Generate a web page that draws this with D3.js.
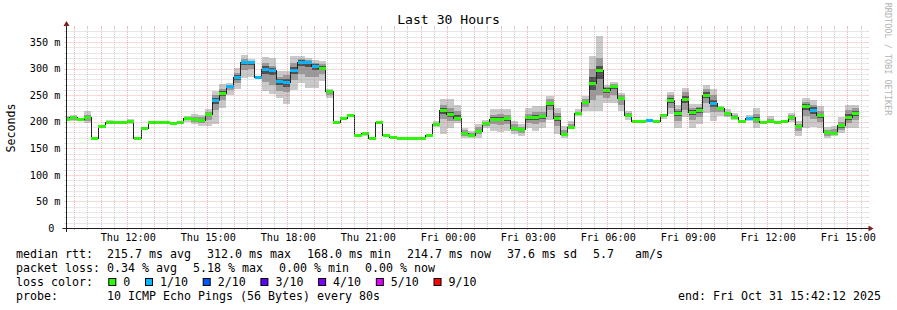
<!DOCTYPE html>
<html><head><meta charset="utf-8">
<script src="https://cdn.jsdelivr.net/npm/d3@7/dist/d3.min.js"></script>
<style>
html,body{margin:0;padding:0;background:#fff;overflow:hidden}
svg text{font-family:"DejaVu Sans Mono",monospace;white-space:pre}
</style></head>
<body>
<svg id="chart" width="897" height="310"></svg>
<script>
// ---------------- data ----------------
const windowStart = "2025-10-30T09:42:12";
const windowEnd   = "2025-10-31T15:42:12";
const stepStart   = "2025-10-30T09:34:00";
const stepMinutes = 16;

// median RTT per step (ms)
const median = [205,207,204,207,168,191,199,199,199,201,
 169,187,198,199,199,197,199,206,205,203,
 214,239,254,266,283,312,312,283,298,296,
 276,274,297,312,312,304,301,256,199,206,
 211,174,177,168,199,174,170,169,169,169,
 169,174,195,221,214,206,178,175,182,196,
 205,205,206,187,185,207,207,209,234,206,
 176,189,215,236,271,297,259,266,244,212,
 201,201,202,201,211,240,216,242,217,221,
 249,234,225,215,207,201,206,205,199,201,
 199,201,207,191,229,221,211,179,177,192,
 207,215];
// lost pings per step (out of 10)
const loss = [0,0,0,0,0,0,0,0,0,0,
 0,0,0,0,0,0,0,0,0,0,
 0,1,0,1,1,1,1,1,1,1,
 1,1,1,1,1,1,0,0,0,0,
 0,0,0,0,0,0,0,0,0,0,
 0,0,0,0,0,0,0,0,0,0,
 0,0,0,0,0,0,0,0,0,0,
 0,0,0,0,0,0,0,0,0,0,
 0,0,1,0,0,0,0,0,0,0,
 0,1,0,0,0,0,1,0,0,0,
 0,0,0,0,0,1,0,0,0,0,
 0,0];
// smoke: outer ping range (min / max)
const smokeLo = [201,202,201,197,166,189,195,197,197,195,
 167,185,196,197,197,195,197,200,195,191,
 191,195,226,251,261,282,285,281,258,252,
 245,233,260,272,264,264,276,245,197,204,
 209,172,173,167,197,172,168,167,167,167,
 167,172,190,176,189,198,170,170,170,189,
 183,181,183,176,173,189,183,189,204,176,
 170,186,211,220,220,220,236,236,220,204,
 199,199,200,199,205,214,189,208,189,195,
 217,201,211,208,203,199,201,189,197,198,
 198,199,200,173,189,190,189,170,173,179,
 189,189];
const smokeHi = [210,212,207,220,172,193,203,201,202,206,
 171,189,200,201,201,199,201,211,214,212,
 224,257,271,273,301,325,318,285,321,320,
 296,296,323,323,320,317,314,261,201,208,
 213,176,180,170,201,176,172,171,171,171,
 171,176,201,242,242,231,189,183,195,204,
 223,223,223,201,195,226,229,229,248,226,
 192,201,223,248,323,362,270,275,254,220,
 203,203,205,203,214,256,231,264,233,233,
 270,261,229,223,217,203,213,225,201,211,
 202,203,217,201,245,240,229,190,192,208,
 231,231];
// smoke: inner ping range (3rd / 8th ping)
const innerLo = [203,204,202,202,167,190,197,198,198,198,
 168,186,197,198,198,196,198,203,200,197,
 204,222,240,260,272,298,300,282,275,270,
 258,255,278,290,285,285,290,250,198,205,
 210,173,175,167,198,173,169,168,168,168,
 168,173,192,205,202,202,174,172,176,192,
 195,194,195,182,179,198,196,200,222,192,
 173,187,212,228,240,250,245,250,232,208,
 200,200,201,200,208,226,202,222,203,208,
 235,218,218,211,205,200,203,198,198,199,
 198,200,204,182,210,205,200,174,175,185,
 198,204];
const innerHi = [208,210,206,212,170,192,201,200,201,204,
 170,188,199,200,200,198,200,209,209,208,
 219,250,262,270,292,318,315,284,310,305,
 285,287,310,318,316,310,308,259,200,207,
 212,175,178,169,200,175,171,170,170,170,
 170,175,198,232,226,220,184,179,190,200,
 213,214,213,195,190,215,218,218,242,216,
 184,196,219,243,300,320,266,271,250,217,
 202,202,204,202,213,250,224,256,226,228,
 262,250,228,219,212,202,209,214,200,205,
 201,202,212,196,238,232,220,185,186,200,
 222,226];
// smoke: core ping range (4th / 7th ping)
const coreLo = [204,205,203,205,168,191,198,199,199,200,
 169,187,198,199,199,197,199,205,203,201,
 210,233,249,264,279,306,307,283,290,287,
 270,266,290,305,303,298,297,254,199,206,
 211,174,177,168,199,174,170,169,169,169,
 169,174,194,215,209,204,176,174,180,195,
 201,201,202,185,183,204,203,206,230,201,
 175,188,214,233,260,280,254,261,240,211,
 201,201,202,201,210,235,211,235,212,217,
 244,228,223,213,206,201,205,202,199,200,
 199,201,205,188,222,215,207,177,176,189,
 203,210];
const coreHi = [206,208,205,209,169,191,200,199,200,202,
 169,187,198,199,199,197,199,207,207,205,
 216,244,258,268,287,315,314,283,304,301,
 281,280,303,316,315,308,305,258,199,206,
 211,174,177,168,199,174,170,169,169,169,
 169,174,196,226,219,212,181,177,185,197,
 208,209,209,190,187,211,212,213,238,210,
 179,191,216,239,285,305,263,269,247,214,
 201,201,202,201,212,245,220,249,222,225,
 255,241,227,217,209,201,207,209,199,203,
 199,201,210,194,234,227,215,182,181,196,
 214,220];

const xTickTimes  = ["2025-10-30T12:00:00","2025-10-30T15:00:00","2025-10-30T18:00:00","2025-10-30T21:00:00",
  "2025-10-31T00:00:00","2025-10-31T03:00:00","2025-10-31T06:00:00","2025-10-31T09:00:00",
  "2025-10-31T12:00:00","2025-10-31T15:00:00"];
const xTickLabels = ["Thu 12:00","Thu 15:00","Thu 18:00","Thu 21:00","Fri 00:00","Fri 03:00",
  "Fri 06:00","Fri 09:00","Fri 12:00","Fri 15:00"];
const yTickValues = [0,50,100,150,200,250,300,350];
const yTickLabels = ["0 ","50 m","100 m","150 m","200 m","250 m","300 m","350 m"];

const lossLevels = [0,1,2,3,4,5,9];
const lossLabels = ["0","1/10","2/10","3/10","4/10","5/10","9/10"];
const lossColors = ["#26ff00","#00b8ff","#0059ff","#5e00ff","#7e00ff","#dd00ff","#ff0000"];

const titleText = "Last 30 Hours";
const yAxisTitle = "Seconds";
const watermark = "RRDTOOL / TOBI OETIKER";
const legendRow1 = ["median rtt:  215.7 ms avg","312.0 ms max","168.0 ms min","214.7 ms now","37.6 ms sd","5.7   am/s"];
const legendRow2 = ["packet loss: 0.34 % avg","5.18 % max","0.00 % min","0.00 % now"];
const legendRow3Head = "loss color:";
const legendRow4 = "probe:       10 ICMP Echo Pings (56 Bytes) every 80s";
const endText = "end: Fri Oct 31 15:42:12 2025";

// ---------------- drawing ----------------
const svg = d3.select("#chart");
const parse = d3.timeParse("%Y-%m-%dT%H:%M:%S");
const X0 = 66.5, X1 = 866.5, Y0 = 228, Y1 = 28;
const x = d3.scaleTime().domain([parse(windowStart), parse(windowEnd)]).range([X0, X1]);
const y = d3.scaleLinear().domain([0, 350]).range([Y0, 42]);
const yMax = y.invert(Y1);

const s0 = parse(stepStart);
const steps = median.map((m, i) => ({
  t0: d3.timeMinute.offset(s0, i * stepMinutes),
  t1: d3.timeMinute.offset(s0, (i + 1) * stepMinutes),
  m, loss: loss[i], lo: smokeLo[i], hi: smokeHi[i], ilo: innerLo[i], ihi: innerHi[i],
  clo: coreLo[i], chi: coreHi[i]
}));
const pts = steps.map(s => Object.assign({t: s.t0}, s));
pts.push(Object.assign({}, steps[steps.length - 1], {t: steps[steps.length - 1].t1}));

function lossColor(l) {
  let idx = 0;
  lossLevels.forEach((lv, i) => { if (l >= lv) idx = i; });
  return lossColors[idx];
}

svg.append("rect").attr("width", 897).attr("height", 310).attr("fill", "#fff");
svg.append("defs").append("clipPath").attr("id", "plotclip")
  .append("rect").attr("x", 67).attr("y", Y1).attr("width", 800).attr("height", Y0 - Y1);

const g = svg.append("g").attr("clip-path", "url(#plotclip)");
const band = (lo, hi) => d3.area().curve(d3.curveStepAfter)
  .x(d => x(d.t)).y0(d => y(d[lo])).y1(d => y(d[hi]));
g.append("path").datum(pts).attr("d", band("lo", "hi")).attr("fill", "#cacaca").attr("shape-rendering", "crispEdges");
g.append("path").datum(pts).attr("d", band("ilo", "ihi")).attr("fill", "#9a9a9a").attr("shape-rendering", "crispEdges");
g.append("path").datum(pts).attr("d", band("clo", "chi")).attr("fill", "#505050").attr("shape-rendering", "crispEdges");
g.append("path").datum(pts)
  .attr("d", d3.line().curve(d3.curveStepAfter).x(d => x(d.t)).y(d => y(d.m)))
  .attr("fill", "none").attr("stroke", "#202020").attr("stroke-width", 1).attr("shape-rendering", "crispEdges");
g.selectAll("rect.med").data(steps).join("rect").attr("class", "med")
  .attr("x", d => x(d.t0)).attr("width", d => x(d.t1) - x(d.t0))
  .attr("y", d => y(d.m) - 1.5).attr("height", 3)
  .attr("fill", d => lossColor(d.loss)).attr("shape-rendering", "crispEdges");

// grid (drawn over the graph like rrdtool)
const grid = svg.append("g");
const minorCol = "rgba(143,143,143,0.42)", majorCol = "rgba(222,79,79,0.42)";
const tS = parse(windowStart), tE = parse(windowEnd);
const halfHours = d3.timeMinute.every(30).range(tS, tE).filter(t => t.getMinutes() === 30);
const hours = d3.timeHour.every(1).range(tS, tE);
function vline(t, col) {
  const px = Math.floor(x(t)) + 0.5;
  grid.append("line").attr("x1", px).attr("x2", px).attr("y1", Y1).attr("y2", Y0)
    .attr("stroke", col).attr("stroke-dasharray", "1,1");
  grid.append("line").attr("x1", px).attr("x2", px).attr("y1", Y0).attr("y2", Y0 + 2).attr("stroke", col);
  grid.append("line").attr("x1", px).attr("x2", px).attr("y1", Y1 - 2).attr("y2", Y1).attr("stroke", col);
}
halfHours.forEach(t => vline(t, minorCol));
hours.forEach(t => vline(t, majorCol));
d3.range(10, yMax, 10).forEach(v => {
  const col = v % 50 === 0 ? majorCol : minorCol;
  const py = Math.round(y(v)) + 0.5;
  grid.append("line").attr("x1", X0).attr("x2", X1).attr("y1", py).attr("y2", py)
    .attr("stroke", col).attr("stroke-dasharray", "1,1");
  grid.append("line").attr("x1", X0 - 2).attr("x2", X0).attr("y1", py).attr("y2", py).attr("stroke", col);
  grid.append("line").attr("x1", X1).attr("x2", X1 + 2).attr("y1", py).attr("y2", py).attr("stroke", col);
});

// axes labels
const yAxis = svg.append("g").attr("transform", `translate(${X0},0)`)
  .call(d3.axisLeft(y).tickValues(yTickValues).tickFormat((d, i) => yTickLabels[i]).tickSize(0).tickPadding(6));
yAxis.select(".domain").remove();
yAxis.selectAll("text").attr("font-size", 10.2).attr("font-family", "DejaVu Sans Mono").attr("fill", "#000");
const xAxis = svg.append("g").attr("transform", `translate(0,${Y0})`)
  .call(d3.axisBottom(x).tickValues(xTickTimes.map(parse)).tickFormat((d, i) => xTickLabels[i]).tickSize(0).tickPadding(6));
xAxis.select(".domain").remove();
xAxis.selectAll("text").attr("font-size", 10.2).attr("font-family", "DejaVu Sans Mono").attr("fill", "#000");

// axis lines + arrows
svg.append("line").attr("x1", X0 - 4).attr("x2", X1 + 4).attr("y1", Y0 + 0.5).attr("y2", Y0 + 0.5).attr("stroke", "#1f1f1f");
svg.append("line").attr("x1", X0).attr("x2", X0).attr("y1", Y0 + 4).attr("y2", Y1 - 4).attr("stroke", "#1f1f1f");
svg.append("path").attr("d", `M${X1 + 2},${Y0 + 0.5 - 3}L${X1 + 2},${Y0 + 0.5 + 3}L${X1 + 7},${Y0 + 0.5}Z`).attr("fill", "#801f1f");
svg.append("path").attr("d", `M${X0 - 3},${Y1 - 2}L${X0 + 3},${Y1 - 2}L${X0},${Y1 - 7}Z`).attr("fill", "#801f1f");

// title, unit label, watermark
svg.append("text").attr("x", 448.5).attr("y", 24).attr("text-anchor", "middle")
  .attr("font-size", 13.12).text(titleText);
svg.append("text").attr("transform", `translate(14.5,128) rotate(-90)`).attr("text-anchor", "middle")
  .attr("font-size", 11.63).text(yAxisTitle);
svg.append("text").attr("transform", `translate(885,59) rotate(90)`).attr("text-anchor", "middle")
  .attr("font-size", 8.5).attr("fill", "#b4b4b4").text(watermark);

// legend
const CW = 11.63 * 0.602, LF = 11.63, GAP = 16;
function row(items, yb) {
  let cx = 16;
  items.forEach(t => {
    svg.append("text").attr("x", cx).attr("y", yb).attr("font-size", LF).text(t);
    cx += t.length * CW + GAP;
  });
}
row(legendRow1, 258);
row(legendRow2, 272);
svg.append("text").attr("x", 16).attr("y", 286).attr("font-size", LF).text(legendRow3Head);
let bx = 108.3;
lossLabels.forEach((lab, i) => {
  svg.append("rect").attr("x", bx + 0.5).attr("y", 278.5).attr("width", 7).attr("height", 7)
    .attr("fill", lossColors[i]).attr("stroke", "#000").attr("stroke-width", 1);
  const tx = bx + 15;
  svg.append("text").attr("x", tx).attr("y", 286).attr("font-size", LF).text(lab);
  bx = tx + lab.length * CW + 14.7;
});
svg.append("text").attr("x", 16).attr("y", 300).attr("font-size", LF).text(legendRow4);
svg.append("text").attr("x", 881).attr("y", 300).attr("text-anchor", "end").attr("font-size", LF).text(endText);
</script>
</body></html>
